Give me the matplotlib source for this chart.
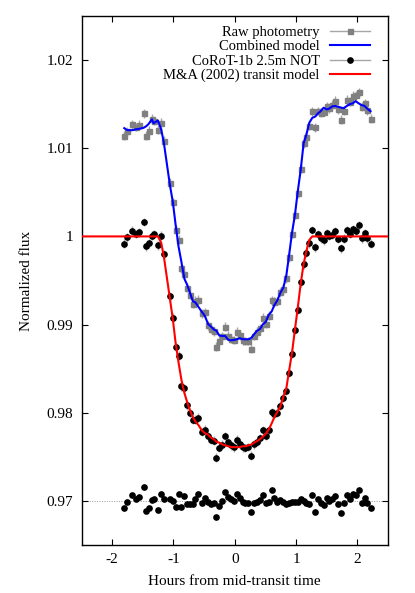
import numpy as np
import matplotlib
matplotlib.use('Agg')
import matplotlib.pyplot as plt
from matplotlib.lines import Line2D

# ---------------- data ----------------
t_hours = [-1.802, -1.754, -1.672, -1.612, -1.558, -1.487, -1.444, -1.406, -1.352, -1.325,
           -1.254, -1.200, -1.156, -1.059, -1.010, -0.966, -0.917, -0.869, -0.820, -0.776,
           -0.733, -0.684, -0.641, -0.592, -0.537, -0.489, -0.434, -0.391, -0.342, -0.299,
           -0.250, -0.201, -0.157, -0.103, -0.060, -0.011, 0.033, 0.081, 0.130, 0.174,
           0.223, 0.271, 0.315, 0.364, 0.413, 0.461, 0.505, 0.554, 0.603, 0.646,
           0.695, 0.744, 0.793, 0.842, 0.885, 0.934, 0.983, 1.026, 1.075, 1.124,
           1.167, 1.216, 1.265, 1.314, 1.357, 1.401, 1.450, 1.498, 1.542, 1.591,
           1.640, 1.688, 1.737, 1.781, 1.829, 1.878, 1.927, 1.971, 2.020, 2.068,
           2.117, 2.161, 2.215]

raw_flux = [1.01144, 1.01194, 1.01270, 1.01242, 1.01269, 1.01395, 1.01140, 1.01199, 1.01336, 1.01310,
            1.01212, 1.01291, 1.01087, 1.00607, 1.00391, 1.00075, 0.99961, 0.99639, 0.99574, 0.99416,
            0.99336, 0.99235, 0.99269, 0.99284, 0.99126, 0.99138, 0.98994, 0.98950, 0.98926, 0.98748,
            0.98818, 0.98866, 0.98977, 0.98874, 0.98841, 0.98826, 0.98917, 0.98879, 0.98824, 0.98814,
            0.98814, 0.98725, 0.98871, 0.98919, 0.98958, 0.99077, 0.99011, 0.99099, 0.99275, 0.99258,
            0.99267, 0.99368, 0.99409, 0.99526, 0.99761, 1.00029, 1.00242, 1.00489, 1.00769, 1.01056,
            1.01131, 1.01252, 1.01417, 1.01238, 1.01422, 1.01401, 1.01414, 1.01478, 1.01454, 1.01494,
            1.01537, 1.01440, 1.01323, 1.01428, 1.01552, 1.01527, 1.01594, 1.01600, 1.01635, 1.01471,
            1.01514, 1.01431, 1.01336]

combined_model = [1.01228, 1.01205, 1.01205, 1.01215, 1.01220, 1.01232, 1.01250, 1.01275, 1.01328, 1.01283,
                  1.01315, 1.01215, 1.01060, 1.00588, 1.00391, 1.00140, 0.99885, 0.99707, 0.99517, 0.99450,
                  0.99366, 0.99265, 0.99250, 0.99200, 0.99145, 0.99100, 0.99005, 0.98980, 0.98945, 0.98930,
                  0.98875, 0.98870, 0.98871, 0.98825, 0.98822, 0.98826, 0.98833, 0.98845, 0.98835, 0.98833,
                  0.98833, 0.98850, 0.98890, 0.98930, 0.98950, 0.99005, 0.99030, 0.99110, 0.99150, 0.99220,
                  0.99275, 0.99360, 0.99420, 0.99560, 0.99780, 1.00040, 1.00250, 1.00500, 1.00750, 1.01060,
                  1.01150, 1.01290, 1.01345, 1.01360, 1.01395, 1.01420, 1.01460, 1.01440, 1.01450, 1.01475,
                  1.01480, 1.01470, 1.01460, 1.01455, 1.01480, 1.01500, 1.01510, 1.01535, 1.01510, 1.01490,
                  1.01480, 1.01450, 1.01420]

corot_flux = [0.99916, 0.99989, 1.00065, 1.00027, 1.00049, 1.00163, 0.99890, 0.99924, 1.00008, 1.00027,
              0.99897, 1.00006, 0.99797, 0.99319, 0.99080, 0.98745, 0.98646, 0.98302, 0.98277, 0.98086,
              0.98000, 0.97920, 0.97919, 0.97944, 0.97781, 0.97808, 0.97739, 0.97690, 0.97681, 0.97488,
              0.97603, 0.97636, 0.97736, 0.97669, 0.97629, 0.97610, 0.97694, 0.97644, 0.97609, 0.97601,
              0.97611, 0.97515, 0.97641, 0.97669, 0.97708, 0.97802, 0.97741, 0.97799, 0.98005, 0.97988,
              0.98002, 0.98078, 0.98169, 0.98246, 0.98451, 0.98669, 0.98942, 0.99169, 0.99479, 0.99686,
              0.99811, 0.99922, 1.00072, 0.99878, 1.00027, 0.99981, 0.99954, 1.00038, 1.00004, 1.00019,
              1.00057, 0.99970, 0.99863, 0.99973, 1.00072, 1.00027, 1.00084, 1.00065, 1.00125, 0.99981,
              1.00034, 0.99981, 0.99916]

transit_model = [1.0, 1.0, 1.0, 1.0, 1.0, 1.0, 1.0, 1.0, 1.0, 1.0,
                 1.0, 0.9993, 0.9977, 0.9930, 0.9906, 0.9880, 0.9857, 0.9837, 0.9822, 0.9812,
                 0.9803, 0.9795, 0.9790, 0.9786, 0.9780, 0.9777, 0.9775, 0.9772, 0.9770, 0.9767,
                 0.9766, 0.9764, 0.9763, 0.9762, 0.9761, 0.9761, 0.9761, 0.9761, 0.9762, 0.9762,
                 0.9763, 0.9764, 0.9766, 0.9768, 0.9770, 0.9773, 0.9776, 0.9781, 0.9788, 0.9795,
                 0.9801, 0.9807, 0.9818, 0.9828, 0.9847, 0.9868, 0.9895, 0.9918, 0.9946, 0.9969,
                 0.9983, 0.9996, 1.0, 1.0, 1.0, 1.0, 1.0, 1.0, 1.0, 1.0,
                 1.0, 1.0, 1.0, 1.0, 1.0, 1.0, 1.0, 1.0, 1.0, 1.0,
                 1.0, 1.0, 1.0]

residuals = [-0.00084, -0.00011, 0.00065, 0.00027, 0.00049, 0.00163, -0.00110, -0.00076, 0.00008, 0.00027,
             -0.00103, 0.00076, 0.00027, 0.00019, 0.00000, -0.00065, 0.00076, -0.00068, 0.00057, -0.00034,
             -0.00030, -0.00030, 0.00019, 0.00084, -0.00019, 0.00038, -0.00011, -0.00030, -0.00019, -0.00182,
             -0.00057, -0.00004, 0.00106, 0.00049, 0.00019, 0.00000, 0.00084, 0.00034, -0.00011, -0.00019,
             -0.00019, -0.00125, -0.00019, -0.00011, 0.00008, 0.00072, -0.00019, -0.00011, 0.00125, 0.00038,
             -0.00008, 0.00008, -0.00011, -0.00034, -0.00019, -0.00011, -0.00008, -0.00011, 0.00019, -0.00004,
             -0.00019, -0.00038, 0.00072, -0.00122, 0.00027, -0.00019, -0.00046, 0.00038, 0.00004, 0.00019,
             0.00057, -0.00030, -0.00137, -0.00027, 0.00072, 0.00027, 0.00084, 0.00065, 0.00125, -0.00019,
             0.00034, -0.00019, -0.00084]

flux_err = 0.0005
resid_offset = 0.97
baseline = 1.0

x_limits = (-2.5, 2.5)
y_limits = (0.965, 1.025)
xticks = [-2, -1, 0, 1, 2]
xtick_labels = ['-2', '-1', '0', '1', '2']
yticks = [0.97, 0.98, 0.99, 1.00, 1.01, 1.02]
ytick_labels = ['0.97', '0.98', '0.99', '1', '1.01', '1.02']

labels = ['Raw photometry', 'Combined model', 'CoRoT-1b 2.5m NOT', 'M&A (2002) transit model']

# ---------------- plotting ----------------
plt.rcParams['font.family'] = ['Liberation Serif', 'DejaVu Serif']
plt.rcParams['mathtext.fontset'] = 'stix'

W, H = 415, 593
fig = plt.figure(figsize=(W / 100, H / 100), dpi=100)
L, R, T, B = 81.5, 388, 16, 545
ax = fig.add_axes([L / W, 1 - B / H, (R - L) / W, (B - T) / H])

t = np.array(t_hours)
grey_m = '#808080'
grey_e = '#a6a6a6'

ax.errorbar(t, raw_flux, yerr=flux_err, fmt='s', ms=3.6, mfc=grey_m, mec=grey_m,
            ecolor=grey_e, elinewidth=1.0, capsize=0, zorder=2)
ax.plot(t, combined_model, color='#0000ff', lw=1.5, zorder=3)
ax.errorbar(t, corot_flux, yerr=flux_err, fmt='o', ms=3.8, mfc='black', mec='black',
            ecolor=grey_e, elinewidth=1.0, capsize=0, zorder=4)
red_x = np.concatenate([[x_limits[0]], t, [x_limits[1]]])
red_y = np.concatenate([[baseline], transit_model, [baseline]])
ax.plot(red_x, red_y, color='#ff0000', lw=1.5, zorder=5)

ax.axhline(resid_offset, color='#9a9a9a', lw=0.7, ls=(0, (1, 1.5)), zorder=1)
ax.plot(t, resid_offset + np.array(residuals), 'o', ms=3.8, color='black', zorder=4)

ax.set_xlim(*x_limits)
ax.set_ylim(*y_limits)
ax.set_xticks(xticks)
ax.set_xticklabels(xtick_labels)
ax.set_yticks(yticks)
ax.set_yticklabels(ytick_labels)
ax.tick_params(direction='in', length=4.5, width=0.8, top=True, right=True,
               labelsize=11, pad=6)
for s in ax.spines.values():
    s.set_linewidth(1.0)

ax.set_xlabel('Hours from mid-transit time', fontsize=11, labelpad=6)
ax.set_ylabel('Normalized flux', fontsize=11, labelpad=10)

handles = [
    Line2D([], [], color=grey_e, lw=1.0, marker='s', ms=3.6, mfc=grey_m, mec=grey_m),
    Line2D([], [], color='#0000ff', lw=1.5),
    Line2D([], [], color=grey_e, lw=1.0, marker='o', ms=3.8, mfc='black', mec='black'),
    Line2D([], [], color='#ff0000', lw=1.5),
]
ax.legend(handles, labels, loc='upper right', bbox_to_anchor=((370 - L) / (R - L), (B - 26) / (B - T)),
          frameon=False, markerfirst=False, numpoints=1, fontsize=10.5,
          handlelength=2.75, handletextpad=0.7, labelspacing=0.07, borderpad=0,
          borderaxespad=0)

fig.savefig('out.png', dpi=100)
